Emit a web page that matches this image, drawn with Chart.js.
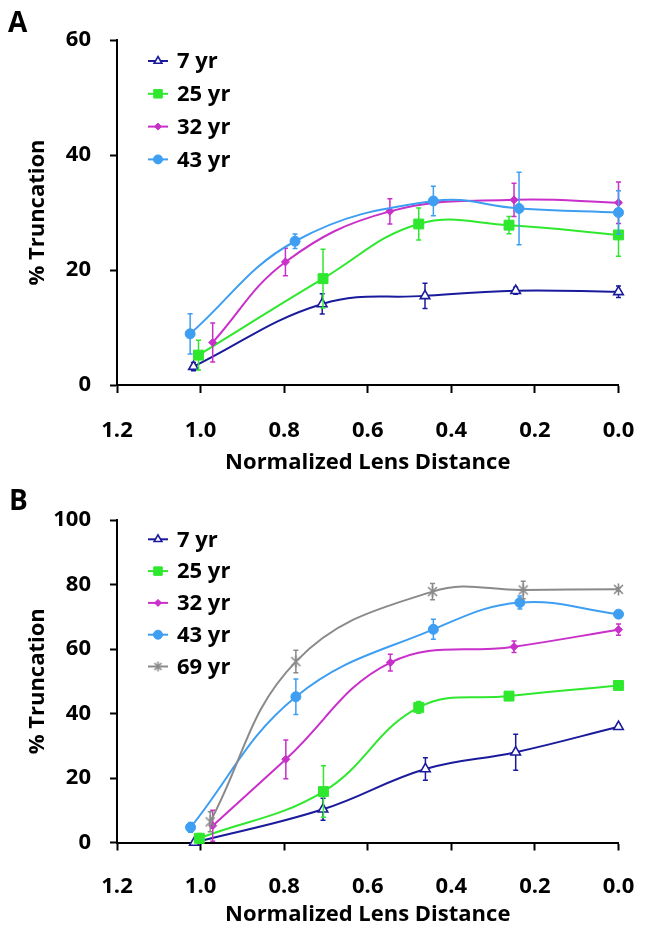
<!DOCTYPE html>
<html><head><meta charset="utf-8">
<script src="https://cdn.jsdelivr.net/npm/chart.js@4.4.1/dist/chart.umd.min.js"></script>
<style>
html,body{margin:0;padding:0;background:#fff;}
#wrap{position:relative;width:650px;height:937px;overflow:hidden;background:#fff;}
canvas{position:absolute;left:0;}
.pl{position:absolute;font:700 28px "Open Sans";color:#000;line-height:1;}
</style></head><body>
<div id="wrap">
<canvas id="cA" width="650" height="480" style="top:0"></canvas>
<canvas id="cB" width="650" height="457" style="top:480px"></canvas>
<div class="pl" style="left:8px;top:7px">A</div>
<div class="pl" style="left:9px;top:485px">B</div>
</div>
<script>
// ---------- data ----------
const seriesLabelsA = ['7 yr','25 yr','32 yr','43 yr'];
const seriesLabelsB = ['7 yr','25 yr','32 yr','43 yr','69 yr'];
const xTickLabels = ['0.0','0.2','0.4','0.6','0.8','1.0','1.2'];
const yTickLabelsA = ['0','20','40','60'];
const yTickLabelsB = ['0','20','40','60','80','100'];

// Panel A
const xA7  = [1.017, 0.709, 0.463, 0.246, 0.0];
const yA7  = [3.2, 14.1, 15.5, 16.4, 16.2];
const eA7  = [0.7, 1.75, 2.2, 0.6, 1.0];
const xA25 = [1.005, 0.707, 0.478, 0.262, 0.0];
const yA25 = [5.2, 18.5, 28.0, 27.8, 26.1];
const eA25 = [2.6, 5.1, 2.8, 1.5, 3.7];
const xA32 = [0.971, 0.797, 0.547, 0.250, 0.0];
const yA32 = [7.4, 21.4, 30.2, 32.2, 31.7];
const eA32 = [3.4, 2.4, 2.2, 2.9, 3.6];
const xA43 = [1.025, 0.774, 0.443, 0.238, 0.0];
const yA43 = [8.9, 25.0, 32.0, 30.7, 30.0];
const eA43 = [3.5, 1.25, 2.55, 6.3, 3.8];

// Panel B
const xB7  = [1.015, 0.707, 0.462, 0.246, 0.0];
const yB7  = [0.0, 10.3, 22.8, 28.0, 35.9];
const eB7  = [0.5, 3.4, 3.5, 5.6, 0.8];
const xB25 = [1.003, 0.706, 0.478, 0.262, 0.0];
const yB25 = [1.3, 15.8, 41.9, 45.4, 48.7];
const eB25 = [1.5, 8.0, 1.8, 1.0, 1.2];
const xB32 = [0.971, 0.796, 0.546, 0.250, 0.0];
const yB32 = [5.2, 25.8, 55.8, 60.7, 66.0];
const eB32 = [4.8, 6.0, 2.6, 1.75, 1.75];
const xB43 = [1.024, 0.772, 0.443, 0.236, 0.0];
const yB43 = [4.7, 45.2, 66.1, 74.4, 70.8];
const eB43 = [1.5, 5.5, 3.1, 2.0, 1.0];
const xB69 = [0.977, 0.772, 0.445, 0.228, 0.0];
const yB69 = [6.4, 56.1, 77.8, 78.3, 78.5];
const eB69 = [3.1, 3.5, 2.5, 2.7, 0.5];

// ---------- styles ----------
const C7 = '#1a1a9c', C25 = '#2ee82e', C32 = '#c92fc9', C43 = '#3d9ef2', C69 = '#8a8a8a';
const FONT = '"Open Sans", "Liberation Sans", sans-serif';
const FS = 22;

function makeStar(color, n){
  const c = document.createElement('canvas'); c.width = n; c.height = n;
  const g = c.getContext('2d'); g.strokeStyle = color; g.lineWidth = 1.6;
  const a = 2, b = n - 2, m = n / 2;
  g.beginPath();
  g.moveTo(a,a); g.lineTo(b,b);
  g.moveTo(b,a); g.lineTo(a,b);
  g.moveTo(m,0.5); g.lineTo(m,n-0.5);
  g.stroke();
  return c;
}

function pts(xs, ys){ return xs.map((x,i)=>({x:x, y:ys[i]})); }

function ds(label, xs, ys, es, color, style, radius, fill, bw, legStyle, legR){
  return {
    label: label, data: pts(xs, ys), errors: es,
    borderColor: color, backgroundColor: color, borderWidth: 2,
    pointStyle: style, pointRadius: radius, pointBackgroundColor: fill,
    pointBorderColor: color, pointBorderWidth: bw,
    legStyle: legStyle || style, legRadius: legR,
    tension: 0.4, clip: false, fill: false
  };
}

const errorBars = {
  id: 'errorBars',
  beforeDatasetDraw(chart, args){
    const d = chart.data.datasets[args.index];
    if (!d.errors) return;
    const sx = chart.scales.x, sy = chart.scales.y, ctx = chart.ctx;
    ctx.save();
    ctx.strokeStyle = d.borderColor; ctx.lineWidth = 1.5;
    d.data.forEach((p,i)=>{
      const e = d.errors[i];
      const px = sx.getPixelForValue(p.x);
      const t = sy.getPixelForValue(p.y + e), b = sy.getPixelForValue(p.y - e);
      ctx.beginPath();
      ctx.moveTo(px, t); ctx.lineTo(px, b);
      ctx.moveTo(px-2.5, t); ctx.lineTo(px+2.5, t);
      ctx.moveTo(px-2.5, b); ctx.lineTo(px+2.5, b);
      ctx.stroke();
    });
    ctx.restore();
  }
};

const sideLegend = {
  id: 'sideLegend',
  afterDraw(chart, args, opts){
    const ctx = chart.ctx;
    chart.data.datasets.forEach((d,i)=>{
      const y = opts.y0 + i*opts.dy;
      ctx.save();
      ctx.strokeStyle = d.borderColor; ctx.lineWidth = 2;
      ctx.beginPath(); ctx.moveTo(opts.x0, y); ctx.lineTo(opts.x0 + 20, y); ctx.stroke();
      ctx.fillStyle = d.pointBackgroundColor; ctx.strokeStyle = d.borderColor; ctx.lineWidth = d.pointBorderWidth;
      Chart.helpers.drawPoint(ctx, {pointStyle: d.legStyle, radius: d.legRadius, borderWidth: d.pointBorderWidth, rotation: 0}, opts.x0 + 10, y);
      ctx.fillStyle = '#000';
      ctx.font = '700 ' + FS + 'px ' + FONT;
      ctx.textAlign = 'left'; ctx.textBaseline = 'middle';
      ctx.fillText(d.label, opts.tx, y + 1);
      ctx.restore();
    });
  }
};

function options(cfg){
  const f = {family: FONT, size: FS, weight: '700'};
  return {
    responsive: false, animation: false, maintainAspectRatio: false,
    layout: {padding: {top: cfg.top, right: 31.5, left: 0, bottom: 0}},
    plugins: {
      legend: {display: false}, tooltip: {enabled: false},
      sideLegend: {x0: 148, tx: 177, y0: cfg.ly0, dy: cfg.ldy}
    },
    scales: {
      x: {
        type: 'linear', reverse: true, min: 0, max: 1.2,
        ticks: {stepSize: 0.2, color: '#000', font: f, padding: cfg.xpad, maxRotation: 0,
                callback: v => xTickLabels[Math.round(v/0.2)]},
        grid: {drawOnChartArea: false, drawTicks: true, tickLength: 8, tickWidth: 2, tickColor: '#000'},
        border: {display: true, color: '#000', width: 2},
        title: {display: true, text: 'Normalized Lens Distance', color: '#000', font: f,
                padding: {top: 0, bottom: cfg.tpad}},
        afterFit: s => { s.height = cfg.xh; s.paddingLeft = 0; s.paddingRight = 0; }
      },
      y: {
        type: 'linear', min: 0, max: cfg.ymax,
        ticks: {stepSize: 20, color: '#000', font: f, padding: 19,
                callback: v => cfg.ylabels[Math.round(v/20)]},
        grid: {drawOnChartArea: false, drawTicks: true, tickLength: 7, tickWidth: 2, tickColor: '#000'},
        border: {display: true, color: '#000', width: 2},
        title: {display: true, text: '% Truncation', color: '#000', font: f, padding: {top: 24.5, bottom: 0}},
        afterFit: s => { s.width = 117; }
      }
    }
  };
}

function build(){
  const dsA = [
    ds(seriesLabelsA[0], xA7, yA7, eA7, C7, 'triangle', 5.5, '#fff', 1.6, 'triangle', 4.5),
    ds(seriesLabelsA[1], xA25, yA25, eA25, C25, 'rect', 7, C25, 1, 'rect', 6),
    ds(seriesLabelsA[2], xA32, yA32, eA32, C32, 'rectRot', 4, C32, 1, 'rectRot', 3.5),
    ds(seriesLabelsA[3], xA43, yA43, eA43, C43, 'circle', 5, C43, 1, 'circle', 4.5)
  ];
  dsA.forEach((d,i)=>{ d.order = dsA.length - i; });
  new Chart(document.getElementById('cA'), {
    type: 'line', data: {datasets: dsA},
    options: options({top: 40, xh: 95, xpad: 24.6, tpad: 4.3, ymax: 60, ylabels: yTickLabelsA, ly0: 61, ldy: 32.8}),
    plugins: [errorBars, sideLegend]
  });

  const dsB = [
    ds(seriesLabelsB[0], xB7, yB7, eB7, C7, 'triangle', 5.5, '#fff', 1.6, 'triangle', 4.5),
    ds(seriesLabelsB[1], xB25, yB25, eB25, C25, 'rect', 7, C25, 1, 'rect', 6),
    ds(seriesLabelsB[2], xB32, yB32, eB32, C32, 'rectRot', 4, C32, 1, 'rectRot', 3.5),
    ds(seriesLabelsB[3], xB43, yB43, eB43, C43, 'circle', 5, C43, 1, 'circle', 4.5),
    ds(seriesLabelsB[4], xB69, yB69, eB69, C69, makeStar(C69, 13), 6, C69, 1, makeStar(C69, 11), 5)
  ];
  dsB.forEach((d,i)=>{ d.order = dsB.length - i; });
  new Chart(document.getElementById('cB'), {
    type: 'line', data: {datasets: dsB},
    options: options({top: 40, xh: 94.5, xpad: 22.8, tpad: 8.8, ymax: 100, ylabels: yTickLabelsB, ly0: 59.3, ldy: 31.8}),
    plugins: [errorBars, sideLegend]
  });
}

const fl = (document.fonts && document.fonts.load) ? document.fonts.load('700 22px "Open Sans"') : Promise.resolve();
fl.then(build, build);
</script>
</body></html>
